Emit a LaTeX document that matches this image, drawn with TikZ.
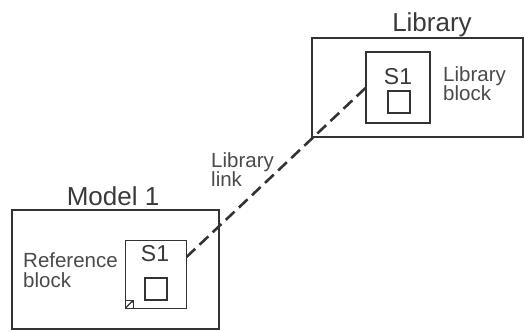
\documentclass[tikz,border=0pt]{standalone}
\usepackage{fontspec}
\setmainfont{Liberation Sans}
\usetikzlibrary{arrows.meta}
\definecolor{ink}{HTML}{333333}
\definecolor{txt}{HTML}{3A3A3A}
\definecolor{lbl}{HTML}{4A4A4A}
\begin{document}
\begin{tikzpicture}[x=1pt,y=-1pt,
  frame/.style={draw=ink, line width=2pt, inner sep=0pt, outer sep=0pt, rectangle},
  thinframe/.style={draw=ink, line width=1pt, inner sep=0pt, outer sep=0pt, rectangle},
  title/.style={text=txt, font=\fontsize{26}{28}\selectfont, inner sep=0pt, anchor=base},
  blocktitle/.style={text=txt, font=\fontsize{23}{25}\selectfont, inner sep=0pt, anchor=base},
  label/.style={text=lbl, font=\fontsize{20.5}{19.5}\selectfont, inner sep=0pt, anchor=north west, align=left},
  link/.style={draw=ink, line width=2.6pt, dash pattern=on 12pt off 6pt}
]
\useasboundingbox (0,0) rectangle (525,332);

% Library
\node[frame, minimum width=211pt, minimum height=99pt] (libbox) at (417.5,87.5) {};
\node[title] (libtitle) at (432,31) {Library};
\node[frame, minimum width=64pt, minimum height=71pt] (libS1) at (398,87.5) {};
\node[blocktitle] (libS1t) at (398,84) {S1};
\node[frame, minimum width=22pt, minimum height=22pt] (libsq) at (399,102) {};
\node[label] (liblabel) at (443,66) {Library\\block};

% Model 1
\node[frame, minimum width=207pt, minimum height=119pt] (modelbox) at (115.5,269.5) {};
\node[title] (modeltitle) at (113,205) {Model 1};
\node[thinframe, minimum width=61pt, minimum height=68pt] (refS1) at (156,274) {};
\node[blocktitle] (refS1t) at (155,261) {S1};
\node[frame, minimum width=22pt, minimum height=22pt] (refsq) at (156,289) {};
\node[thinframe, minimum width=8pt, minimum height=8pt] (badge) at (129.5,304) {};
\draw[ink, line width=1.2pt, -{Stealth[length=3pt,width=3pt]}] (badge.south west) -- (badge.north east);
\node[label] (reflabel) at (23,252.5) {Reference\\block};

% Link
\draw[link] ([yshift=17pt]refS1.east) -- (libS1.west);
\node[label] (linklabel) at (211,152) {Library\\link};
\end{tikzpicture}
\end{document}
